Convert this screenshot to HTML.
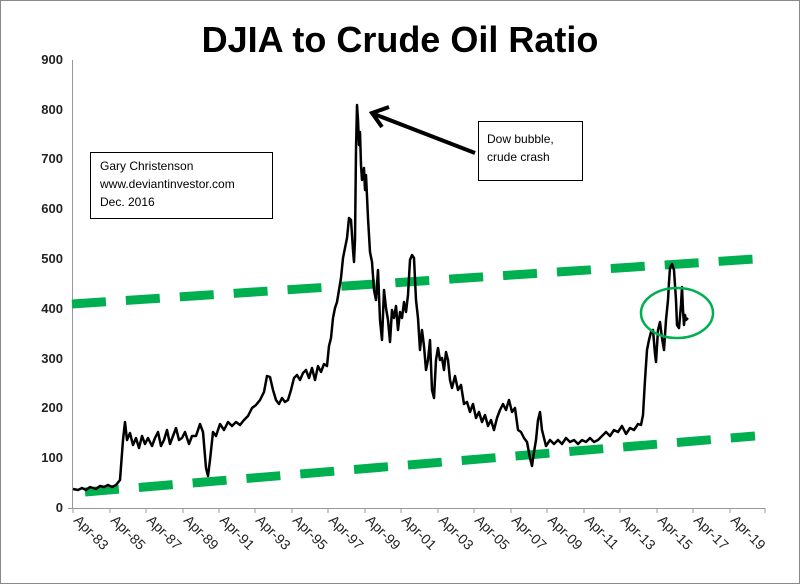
<!DOCTYPE html>
<html><head><meta charset="utf-8"><style>
html,body{margin:0;padding:0;background:#fff}
svg{display:block}
text{font-family:"Liberation Sans",sans-serif}
</style></head><body>
<svg width="800" height="584" viewBox="0 0 800 584">
<rect x="0.5" y="0.5" width="799" height="583" fill="#fff" stroke="#888"/>
<text x="400" y="52" text-anchor="middle" font-size="36" font-weight="bold">DJIA to Crude Oil Ratio</text>
<g font-size="13" font-weight="bold" text-anchor="end" fill="#222">
<text x="63" y="512">0</text><text x="63" y="462">100</text><text x="63" y="412">200</text><text x="63" y="363">300</text><text x="63" y="313">400</text><text x="63" y="263">500</text><text x="63" y="213">600</text><text x="63" y="163">700</text><text x="63" y="114">800</text><text x="63" y="64">900</text>
</g>
<line x1="72.5" y1="60" x2="72.5" y2="508" stroke="#999"/>
<line x1="68" y1="508.5" x2="765" y2="508.5" stroke="#999"/>
<g stroke="#999">
<line x1="73" y1="508" x2="73" y2="513"/><line x1="110" y1="508" x2="110" y2="513"/><line x1="146" y1="508" x2="146" y2="513"/><line x1="183" y1="508" x2="183" y2="513"/><line x1="219" y1="508" x2="219" y2="513"/><line x1="255" y1="508" x2="255" y2="513"/><line x1="292" y1="508" x2="292" y2="513"/><line x1="328" y1="508" x2="328" y2="513"/><line x1="365" y1="508" x2="365" y2="513"/><line x1="401" y1="508" x2="401" y2="513"/><line x1="438" y1="508" x2="438" y2="513"/><line x1="474" y1="508" x2="474" y2="513"/><line x1="511" y1="508" x2="511" y2="513"/><line x1="547" y1="508" x2="547" y2="513"/><line x1="584" y1="508" x2="584" y2="513"/><line x1="620" y1="508" x2="620" y2="513"/><line x1="657" y1="508" x2="657" y2="513"/><line x1="693" y1="508" x2="693" y2="513"/><line x1="730" y1="508" x2="730" y2="513"/><line x1="765" y1="508" x2="765" y2="513"/>
</g>
<g font-size="14" fill="#222">
<text transform="translate(73,521) rotate(45)">Apr-83</text>
<text transform="translate(110,521) rotate(45)">Apr-85</text>
<text transform="translate(146,521) rotate(45)">Apr-87</text>
<text transform="translate(183,521) rotate(45)">Apr-89</text>
<text transform="translate(219,521) rotate(45)">Apr-91</text>
<text transform="translate(255,521) rotate(45)">Apr-93</text>
<text transform="translate(292,521) rotate(45)">Apr-95</text>
<text transform="translate(328,521) rotate(45)">Apr-97</text>
<text transform="translate(365,521) rotate(45)">Apr-99</text>
<text transform="translate(401,521) rotate(45)">Apr-01</text>
<text transform="translate(438,521) rotate(45)">Apr-03</text>
<text transform="translate(474,521) rotate(45)">Apr-05</text>
<text transform="translate(511,521) rotate(45)">Apr-07</text>
<text transform="translate(547,521) rotate(45)">Apr-09</text>
<text transform="translate(584,521) rotate(45)">Apr-11</text>
<text transform="translate(620,521) rotate(45)">Apr-13</text>
<text transform="translate(657,521) rotate(45)">Apr-15</text>
<text transform="translate(693,521) rotate(45)">Apr-17</text>
<text transform="translate(730,521) rotate(45)">Apr-19</text>
</g>
<g stroke="#00b050" stroke-width="9" stroke-dasharray="34,20" fill="none">
<line x1="72" y1="304" x2="755" y2="259"/>
<line x1="85" y1="492" x2="755" y2="436"/>
</g>
<polyline fill="none" stroke="#000" stroke-width="2.5" stroke-linejoin="round" points="
73,489 78,490 82,488 86,490 90,487 96,489 100,486 104,487 108,485 112,487 116,485 120,480 123,440 125,422 127,440 130,433 133,445 136,438 139,448 142,436 145,444 148,438 152,446 155,438 158,432 161,446 164,440 167,430 170,444 173,436 176,428 179,440 182,438 185,432 189,444 192,436 196,436 200,424 203,432 206,468 208,476 210,460 213,432 216,436 220,424 224,430 228,422 232,426 236,422 240,425 244,420 248,416 252,408 256,405 260,400 264,392 267,376 270,377 273,390 276,400 279,404 282,398 285,402 288,400 291,390 294,378 297,375 300,380 303,373 306,370 309,378 312,368 315,380 318,366 321,372 324,364 327,366 329,346 331,338 333,318 335,308 337,302 339,290 341,278 343,258 345,248 347,238 349,218 351,220 353,250 354,262 355,240 356,150 357,105 358,120 359,145 360,132 361,165 362,180 364,168 365,190 366,175 368,218 370,252 372,262 374,290 376,300 378,270 380,320 382,340 384,290 386,308 388,320 390,342 392,310 394,318 396,306 398,330 400,312 402,318 404,302 406,312 408,295 410,260 412,255 414,258 416,300 418,318 420,350 422,330 424,346 426,370 428,360 430,340 432,390 434,398 436,360 438,348 440,360 442,358 444,370 446,352 448,360 450,380 452,388 455,376 458,390 461,385 464,404 467,402 470,412 473,404 476,418 479,412 482,422 485,415 488,426 491,420 494,430 497,418 500,410 503,404 506,410 509,400 512,412 515,408 518,430 521,432 524,438 527,442 530,458 532,466 534,452 536,440 538,420 540,412 542,430 544,438 546,446 550,440 554,444 558,440 562,444 566,438 570,442 574,440 578,444 582,440 586,442 590,438 594,442 598,440 602,436 606,432 610,436 614,430 618,432 622,426 626,434 630,428 634,430 638,424 641,425 643,415 645,380 647,350 649,340 651,332 653,330 655,354 656,362 658,330 660,322 662,338 664,350 666,320 668,300 669,282 670,268 672,264 674,270 676,300 677,325 679,328 681,305 682,287 683,310 684,325 685,315 686,320 688,318"/>
<ellipse cx="677" cy="313" rx="36" ry="25" fill="none" stroke="#00b050" stroke-width="2.5"/>
<line x1="475" y1="153" x2="374" y2="114" stroke="#000" stroke-width="4"/>
<polyline points="389,107 372,113 382,127" fill="none" stroke="#000" stroke-width="4" stroke-linejoin="miter"/>
<rect x="90.5" y="152.5" width="182" height="66" fill="#fff" stroke="#000"/>
<g font-size="12" fill="#000">
<text x="100" y="170">Gary Christenson</text>
<text x="100" y="188">www.deviantinvestor.com</text>
<text x="100" y="206">Dec. 2016</text>
</g>
<rect x="478.5" y="121.5" width="104" height="59" fill="#fff" stroke="#000"/>
<g font-size="12" fill="#000">
<text x="487" y="143">Dow bubble,</text>
<text x="487" y="161">crude crash</text>
</g>
</svg>
</body></html>
